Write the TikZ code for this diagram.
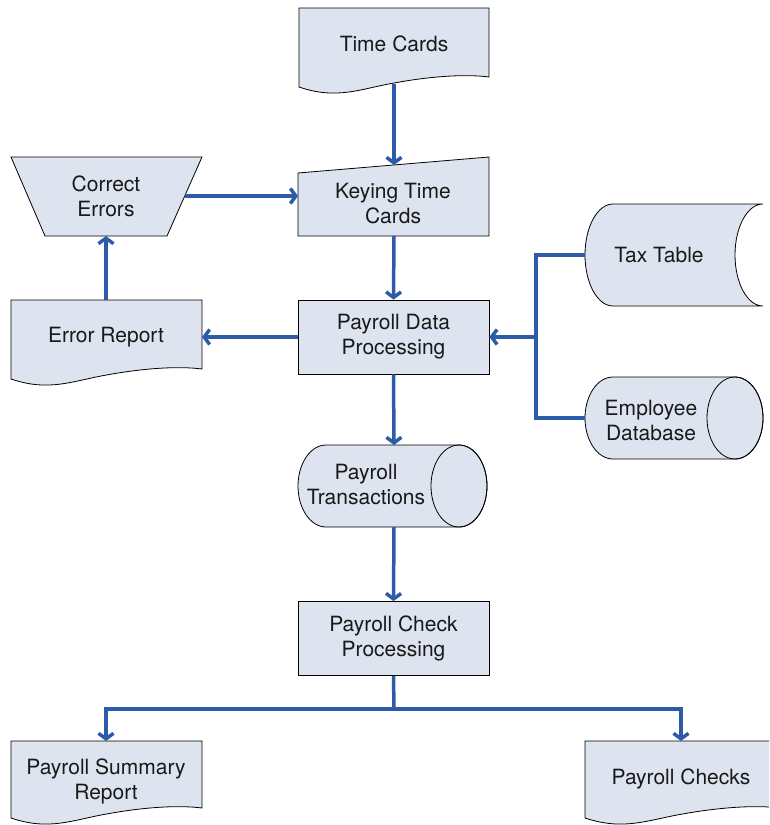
\documentclass[tikz,border=0pt]{standalone}
\usepackage{fontspec}
\setmainfont{TeX Gyre Heros}
\usetikzlibrary{arrows.meta}
\definecolor{shapefill}{RGB}{221,228,239}
\definecolor{flowblue}{RGB}{44,92,168}
\definecolor{inkgray}{RGB}{25,25,25}

% document symbol with a wavy lower edge: left, right, top, bottom-left
\newcommand\docoutline[4]{%
  \path[outline] (#1,#3) -- (#2,#3) -- (#2,{#4-10})
    .. controls ({#2-0.12*(#2-#1)},{#4-13}) and ({#2-0.3*(#2-#1)},{#4-11}) .. ({#1+0.5*(#2-#1)},{#4-4})
    .. controls ({#1+0.32*(#2-#1)},{#4+2}) and ({#1+0.2*(#2-#1)},{#4+13}) .. (#1,#4) -- cycle;}

\begin{document}
\begin{tikzpicture}[x=1pt,y=-1pt,
  outline/.style={draw=black,line width=0.8pt,fill=shapefill},
  txt/.style={font=\fontsize{21}{25}\selectfont,align=center,text=inkgray,inner sep=0pt},
  procbox/.style={outline,minimum width=191pt,minimum height=74pt,inner sep=0pt,
    font=\fontsize{21}{25}\selectfont,align=center,text=inkgray},
  flowline/.style={draw=flowblue,line width=3.5pt},
  flow/.style={flowline,-{Straight Barb[length=5.5pt,width=15pt]}}]

\useasboundingbox (0,0) rectangle (769,825);
\clip (0,0) rectangle (769,825);

% ---- documents ----
\docoutline{299}{489}{8}{87}
\node[txt] (timecards) at (394,44) {Time Cards};

\docoutline{11}{202}{300}{379}
\node[txt] (errreport) at (106,337) {Error Report};

\docoutline{11}{202}{741}{818}
\node[txt] (summary) at (106,781) {Payroll Summary\\Report};

\docoutline{585}{780}{741}{818}
\node[txt] (checks) at (681,779) {Payroll Checks};

% ---- manual input and manual operation ----
\path[outline] (298,173) -- (489,157) -- (489,236) -- (298,236) -- cycle;
\node[txt] (keying) at (393,204) {Keying Time\\Cards};

\path[outline] (11,157) -- (202,157) -- (167,236) -- (45,236) -- cycle;
\node[txt] (correct) at (106,196) {Correct\\Errors};

% ---- processes ----
\node[procbox] (pdp) at (393.5,337) {Payroll Data\\Processing};
\node[procbox] (pcp) at (393.5,638.5) {Payroll Check\\Processing};

% ---- stored data (tax table) ----
\path[outline] (613,204) -- (763,204)
  .. controls (747.5,204) and (735,226.8) .. (735,255)
  .. controls (735,283.2) and (747.5,306) .. (763,306)
  -- (613,306)
  .. controls (597.5,306) and (585,283.2) .. (585,255)
  .. controls (585,226.8) and (597.5,204) .. (613,204) -- cycle;
\node[txt] (taxtable) at (659,255) {Tax Table};

% ---- disk storage (employee database) ----
\path[outline] (613,377) -- (735,377)
  .. controls (750.5,377) and (763,395.4) .. (763,418)
  .. controls (763,440.6) and (750.5,459) .. (735,459)
  -- (613,459)
  .. controls (597.5,459) and (585,440.6) .. (585,418)
  .. controls (585,395.4) and (597.5,377) .. (613,377) -- cycle;
\draw[line width=0.8pt] (735,418) ellipse [x radius=28, y radius=41];
\node[txt] (empdb) at (651,420) {Employee\\Database};

% ---- disk storage (payroll transactions) ----
\path[outline] (326,445) -- (459,445)
  .. controls (474.5,445) and (487,463.4) .. (487,486)
  .. controls (487,508.6) and (474.5,527) .. (459,527)
  -- (326,527)
  .. controls (310.5,527) and (298,508.6) .. (298,486)
  .. controls (298,463.4) and (310.5,445) .. (326,445) -- cycle;
\draw[line width=0.8pt] (459,486) ellipse [x radius=28, y radius=41];
\node[txt] (transactions) at (366,484) {Payroll\\Transactions};

% ---- attachment points on the outlines ----
\coordinate (tc-out) at (394,84);
\coordinate (key-in) at (394,165);
\coordinate (key-out) at (394,236);
\coordinate (key-left) at (298,196);
\coordinate (ce-out) at (185,196);
\coordinate (ce-in) at (106,236);
\coordinate (er-out) at (106,300);
\coordinate (er-in) at (202,337);
\coordinate (tax-out) at (585,255);
\coordinate (edb-out) at (585,418);
\coordinate (merge) at (536,337);
\coordinate (pt-in) at (394,445);
\coordinate (pt-out) at (394,527);
\coordinate (split) at (394,709);
\coordinate (sum-in) at (106,741);
\coordinate (chk-in) at (681,741);

% ---- connectors ----
\draw[flow] (tc-out) -- (key-in);
\draw[flow] (ce-out) -- (key-left);
\draw[flow] (er-out) -- (ce-in);
\draw[flow] (key-out) -- (pdp.north);
\draw[flow] (pdp.west) -- (er-in);
\draw[flowline] (tax-out) -| (merge) |- (edb-out);
\draw[flow] (merge) -- (pdp.east);
\draw[flow] (pdp.south) -- (pt-in);
\draw[flow] (pt-out) -- (pcp.north);
\draw[flowline] (pcp.south) -- (split);
\draw[flow] (split) -| (sum-in);
\draw[flow] (split) -| (chk-in);
\end{tikzpicture}
\end{document}
